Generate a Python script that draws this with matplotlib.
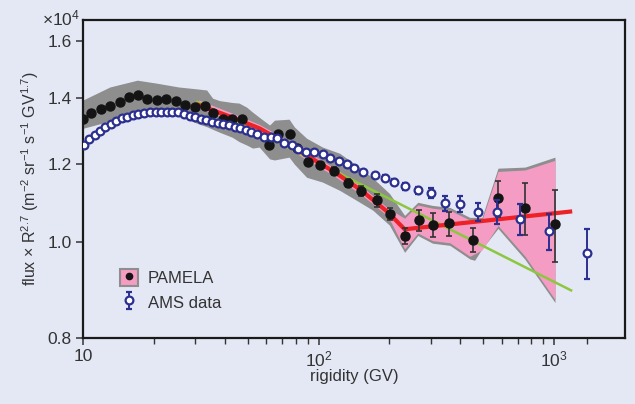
import numpy as np
import matplotlib
matplotlib.use('Agg')
import matplotlib.pyplot as plt
from matplotlib.patches import Patch
from matplotlib.lines import Line2D
from matplotlib.ticker import FixedLocator, FuncFormatter, NullLocator, NullFormatter

plt.rcParams['font.family'] = ['Liberation Sans', 'DejaVu Sans']
plt.rcParams['mathtext.fontset'] = 'custom'
plt.rcParams['mathtext.rm'] = 'Liberation Sans'
plt.rcParams['mathtext.it'] = 'Liberation Sans:italic'

# ---------- dados (flux x R^2.7 em unidades de 10^4) ----------

pam_r = [10.0, 10.8, 11.9, 13.0, 14.4, 15.7, 17.1, 18.7, 20.7, 22.5, 24.9, 27.2,
         30.0, 33.0, 35.7, 39.4, 43.0, 47.5, 61.9, 67.6, 75.3, 81.4, 89.8, 101,
         116, 133, 152, 177, 202, 232, 267, 305, 357, 452, 578, 753, 1009]
pam_f = [1.333, 1.352, 1.365, 1.374, 1.388, 1.404, 1.410, 1.397, 1.393, 1.397, 1.390, 1.377,
         1.371, 1.374, 1.352, 1.333, 1.333, 1.333, 1.254, 1.287, 1.287, 1.246, 1.206, 1.197,
         1.181, 1.148, 1.127, 1.103, 1.068, 1.016, 1.053, 1.041, 1.045, 1.005, 1.108, 1.083, 1.043]
pam_err = [0.004] * 18 + [0.006, 0.006, 0.006, 0.007, 0.008, 0.008,
                          0.011, 0.011, 0.013, 0.016, 0.015, 0.019, 0.025, 0.029, 0.029, 0.028,
                          0.047, 0.066, 0.088]

ams_r = [10.1, 10.6, 11.2, 11.8, 12.4, 13.2, 13.8, 14.7, 15.4, 16.3, 17.1, 18.2, 19.3,
         20.5, 21.5, 22.8, 23.9, 25.4, 26.9, 28.5, 30.0, 31.8, 33.4, 35.4, 37.5, 39.4,
         41.8, 44.3, 46.6, 49.4, 51.9, 55.0, 58.9, 63.1, 66.9, 71.7, 76.8, 82.2, 88.9,
         96.1, 104, 112, 122, 132, 142, 155, 173, 191, 210, 234, 264, 300, 344, 398,
         475, 571, 716, 952, 1380]
ams_f = [1.254, 1.272, 1.284, 1.296, 1.309, 1.318, 1.327, 1.336, 1.339, 1.346, 1.349, 1.352, 1.355,
         1.355, 1.355, 1.355, 1.355, 1.355, 1.349, 1.342, 1.339, 1.333, 1.330, 1.324, 1.321, 1.318,
         1.315, 1.309, 1.305, 1.299, 1.293, 1.287, 1.278, 1.278, 1.275, 1.260, 1.254, 1.243, 1.234,
         1.234, 1.228, 1.217, 1.208, 1.200, 1.189, 1.178, 1.170, 1.162, 1.151, 1.140, 1.129, 1.121,
         1.095, 1.093, 1.073, 1.073, 1.055, 1.026, 0.975]
ams_err = [0.003] * 44 + [0.004, 0.005, 0.006, 0.007, 0.008, 0.009, 0.010, 0.013,
                          0.018, 0.020, 0.023, 0.030, 0.038, 0.043, 0.057]

# banda sistemática (cinza)
band_r = [10, 13, 17, 20.5, 25.5, 31, 33.5, 35.5, 38, 43, 46, 49.5, 52.5, 56, 62, 65, 75, 79,
          89, 104, 123, 145, 170, 200, 232, 264, 305, 361, 439, 460, 494, 578, 753, 1009]
band_hi = [1.394, 1.437, 1.460, 1.450, 1.437, 1.430, 1.427, 1.400, 1.392, 1.386, 1.384, 1.371,
           1.355, 1.339, 1.315, 1.330, 1.333, 1.309, 1.275, 1.249, 1.231, 1.197, 1.162, 1.121,
           1.065, 1.098, 1.090, 1.085, 1.060, 1.060, 1.060, 1.189, 1.192, 1.220]
band_lo = [1.305, 1.327, 1.349, 1.350, 1.345, 1.318, 1.310, 1.302, 1.293, 1.278, 1.265, 1.255,
           1.246, 1.249, 1.215, 1.212, 1.220, 1.200, 1.164, 1.151, 1.129, 1.103, 1.078, 1.041,
           0.977, 1.016, 0.998, 0.993, 0.962, 0.959, 0.985, 1.033, 0.961, 0.869]

# banda rosa
pink_r = [31, 42, 56, 79, 117, 152, 197, 232, 264, 305, 361, 439, 494, 578, 753, 1009]
pink_hi = [1.394, 1.355, 1.317, 1.258, 1.189, 1.140, 1.083, 1.058, 1.091, 1.083, 1.078,
           1.053, 1.053, 1.180, 1.184, 1.211]
pink_lo = [1.368, 1.329, 1.293, 1.234, 1.167, 1.118, 1.063, 0.985, 1.022, 1.004, 0.999,
           0.968, 0.982, 1.040, 0.968, 0.875]

# ajustes
red_r = [30.2, 41.8, 56.1, 79.1, 117, 152, 197, 232, 1194]
red_f = [1.381, 1.342, 1.305, 1.246, 1.178, 1.129, 1.073, 1.031, 1.075]
green_r = [30.6, 1181]
green_f = [1.388, 0.894]

# ---------- figura ----------

bg = '#e4e8f4'
txt = '#333333'

fig = plt.figure(figsize=(6.35, 4.04), dpi=100, facecolor=bg)
ax = fig.add_axes([0.1307, 0.1634, 0.8535, 0.787])
ax.set_facecolor(bg)

ax.fill_between(band_r, band_lo, band_hi, color='#8e8e8e', lw=0, zorder=1)
ax.fill_between(pink_r, pink_lo, pink_hi, color='#f49cc4', lw=0, zorder=2)
ax.plot(green_r, green_f, color='#8dc63f', lw=1.8, zorder=3)
ax.plot(red_r, red_f, color='#ec2227', lw=3, zorder=4, solid_capstyle='butt')

ax.errorbar(pam_r, pam_f, yerr=pam_err, fmt='o', color='#141414', ms=6.5,
            ecolor='#333333', elinewidth=1.2, capsize=2.5, capthick=1.2, zorder=5)
ams = ax.errorbar(ams_r, ams_f, yerr=ams_err, fmt='o', mfc='white', mec='#2b2f8f', mew=1.6,
                  ms=5.6, ecolor='#2b2f8f', elinewidth=1.4, capsize=2.5, capthick=1.4, zorder=6)

ax.set_xscale('log')
ax.set_yscale('log')
ax.set_xlim(10, 2000)
ax.set_ylim(0.8, 1.68)

ax.yaxis.set_major_locator(FixedLocator([0.8, 1.0, 1.2, 1.4, 1.6]))
ax.yaxis.set_major_formatter(FuncFormatter(lambda v, p: f'{v:.1f}'))
ax.yaxis.set_minor_locator(NullLocator())
ax.yaxis.set_minor_formatter(NullFormatter())

ax.xaxis.set_major_locator(FixedLocator([10, 100, 1000]))
ax.xaxis.set_major_formatter(FuncFormatter(
    lambda v, p: '10' if v < 50 else f'$10^{{{int(round(np.log10(v)))}}}$'))
minors = [m * d for d in (10, 100) for m in range(2, 10)] + [1380]
ax.xaxis.set_minor_locator(FixedLocator(minors))
ax.xaxis.set_minor_formatter(NullFormatter())

for s in ax.spines.values():
    s.set_linewidth(1.6)
    s.set_color('#1a1a1a')
ax.tick_params(which='major', direction='out', length=5, width=1.1, colors=txt,
               labelsize=12.5, pad=3)
ax.tick_params(which='minor', direction='out', length=4, width=1.0, colors=txt)

ax.set_xlabel('rigidity (GV)', fontsize=12, color=txt, labelpad=0)
ax.set_ylabel('flux × R$^{2.7}$ (m$^{-2}$ sr$^{-1}$ s$^{-1}$ GV$^{1.7}$)',
              fontsize=11.5, color=txt, labelpad=5)
ax.annotate('×10$^4$', xy=(0, 1), xycoords='axes fraction', xytext=(-2, -6),
            textcoords='offset points', ha='right', va='bottom', fontsize=12.5, color=txt)

pam_handle = (Patch(facecolor='#f49cc4', edgecolor='#8e8e8e', lw=1.5),
              Line2D([], [], marker='o', ls='none', color='#141414', ms=4.5))
ax.legend([pam_handle, ams], ['PAMELA', 'AMS data'], loc='upper left',
          bbox_to_anchor=(0.04, 0.265), frameon=False, fontsize=12, labelcolor=txt,
          handlelength=1.1, handleheight=1.2, handletextpad=0.6, labelspacing=0.45)

plt.savefig('out.png', dpi=100, facecolor=bg)
